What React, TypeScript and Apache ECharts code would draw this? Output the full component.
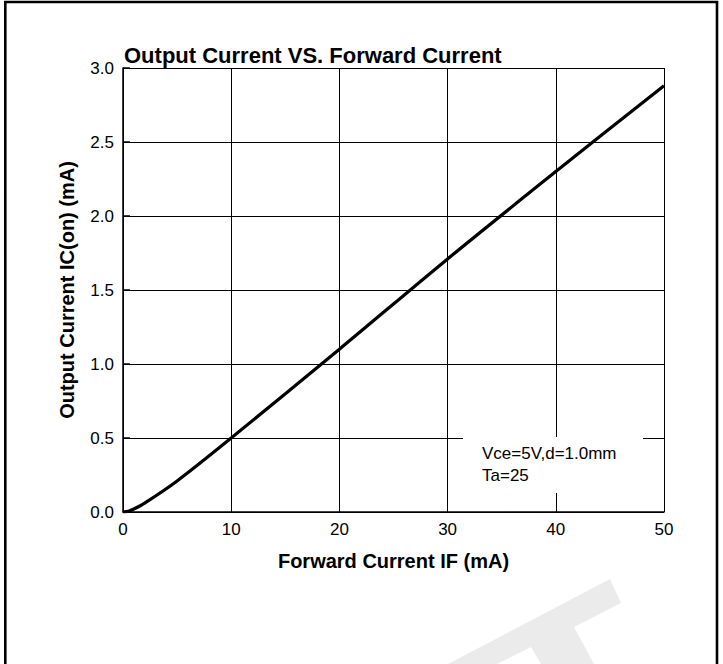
import React, { useEffect, useRef } from "react";
import * as echarts from "echarts";

const forwardCurrent = [0, 0.5, 1, 2, 5, 10, 20, 30, 40, 50];
const outputCurrent = [0, 0.005, 0.02, 0.06, 0.21, 0.5, 1.1, 1.71, 2.3, 2.88];
const xTicks = { min: 0, max: 50, interval: 10 };
const yTicks = { min: 0, max: 3, interval: 0.5 };
const titleText = "Output Current VS. Forward Current";
const xName = "Forward Current IF (mA)";
const yName = "Output Current IC(on) (mA)";
const noteLines = ["Vce=5V,d=1.0mm", "Ta=25"];

const FONT = '"Liberation Sans", Arial, Helvetica, sans-serif';

export default function App() {
  const ref = useRef<HTMLDivElement>(null);
  useEffect(() => {
    if (!ref.current) return;
    const chart = echarts.init(ref.current, null, { renderer: "svg" });
    const data = forwardCurrent.map((x, i) => [x, outputCurrent[i]]);
    chart.setOption({
      animation: false,
      backgroundColor: "#ffffff",
      title: {
        text: titleText,
        left: 119,
        top: 39,
        textStyle: { fontFamily: FONT, fontSize: 22, fontWeight: "bold", color: "#000" },
      },
      grid: { left: 123, right: 59, top: 68, bottom: 152, containLabel: false },
      xAxis: {
        type: "value",
        min: xTicks.min,
        max: xTicks.max,
        interval: xTicks.interval,
        name: xName,
        nameLocation: "middle",
        nameGap: 39,
        nameTextStyle: { fontFamily: FONT, fontSize: 20, fontWeight: "bold", color: "#000" },
        axisLine: { show: true, lineStyle: { color: "#000", width: 1.5 } },
        axisTick: { show: false },
        axisLabel: { fontFamily: FONT, fontSize: 17, color: "#000", margin: 9 },
        splitLine: { show: true, lineStyle: { color: "#000", width: 1 } },
      },
      yAxis: {
        type: "value",
        min: yTicks.min,
        max: yTicks.max,
        interval: yTicks.interval,
        name: yName,
        nameLocation: "middle",
        nameGap: 46,
        nameTextStyle: { fontFamily: FONT, fontSize: 20, fontWeight: "bold", color: "#000" },
        axisLine: { show: true, lineStyle: { color: "#000", width: 1.5 } },
        axisTick: { show: true, inside: true, length: 7, lineStyle: { color: "#000", width: 1.5 } },
        axisLabel: {
          fontFamily: FONT,
          fontSize: 17,
          color: "#000",
          margin: 9,
          formatter: (v: number) => v.toFixed(1),
        },
        splitLine: { show: true, lineStyle: { color: "#000", width: 1 } },
      },
      series: [
        {
          type: "line",
          data,
          smooth: 0.3,
          showSymbol: false,
          symbol: "none",
          lineStyle: { color: "#000", width: 3.2 },
          z: 5,
        },
      ],
      graphic: [
        {
          type: "polygon",
          z: 0,
          silent: true,
          shape: {
            points: [
              [448, 664],
              [610, 579],
              [621, 603],
              [574, 627],
              [594, 664],
              [541, 664],
              [531, 647],
              [497, 664],
            ],
          },
          style: { fill: "#ebebeb" },
        },
        {
          type: "rect",
          z: 100,
          silent: true,
          shape: { x: 463, y: 437, width: 180, height: 56 },
          style: { fill: "#ffffff", stroke: "none" },
        },
        {
          type: "text",
          z: 101,
          x: 482,
          y: 445,
          style: { text: noteLines[0], font: `17px ${FONT}`, fill: "#000" },
        },
        {
          type: "text",
          z: 101,
          x: 482,
          y: 467,
          style: { text: noteLines[1], font: `17px ${FONT}`, fill: "#000" },
        },
        {
          type: "rect",
          z: 120,
          silent: true,
          shape: { x: 5.3, y: 2, width: 711.7, height: 700 },
          style: { fill: "none", stroke: "#000", lineWidth: 2.6 },
        },
      ],
    });
    return () => chart.dispose();
  }, []);
  return (
    <div
      ref={ref}
      style={{ position: "fixed", left: 0, top: 0, width: 723, height: 664, background: "#fff" }}
    />
  );
}
